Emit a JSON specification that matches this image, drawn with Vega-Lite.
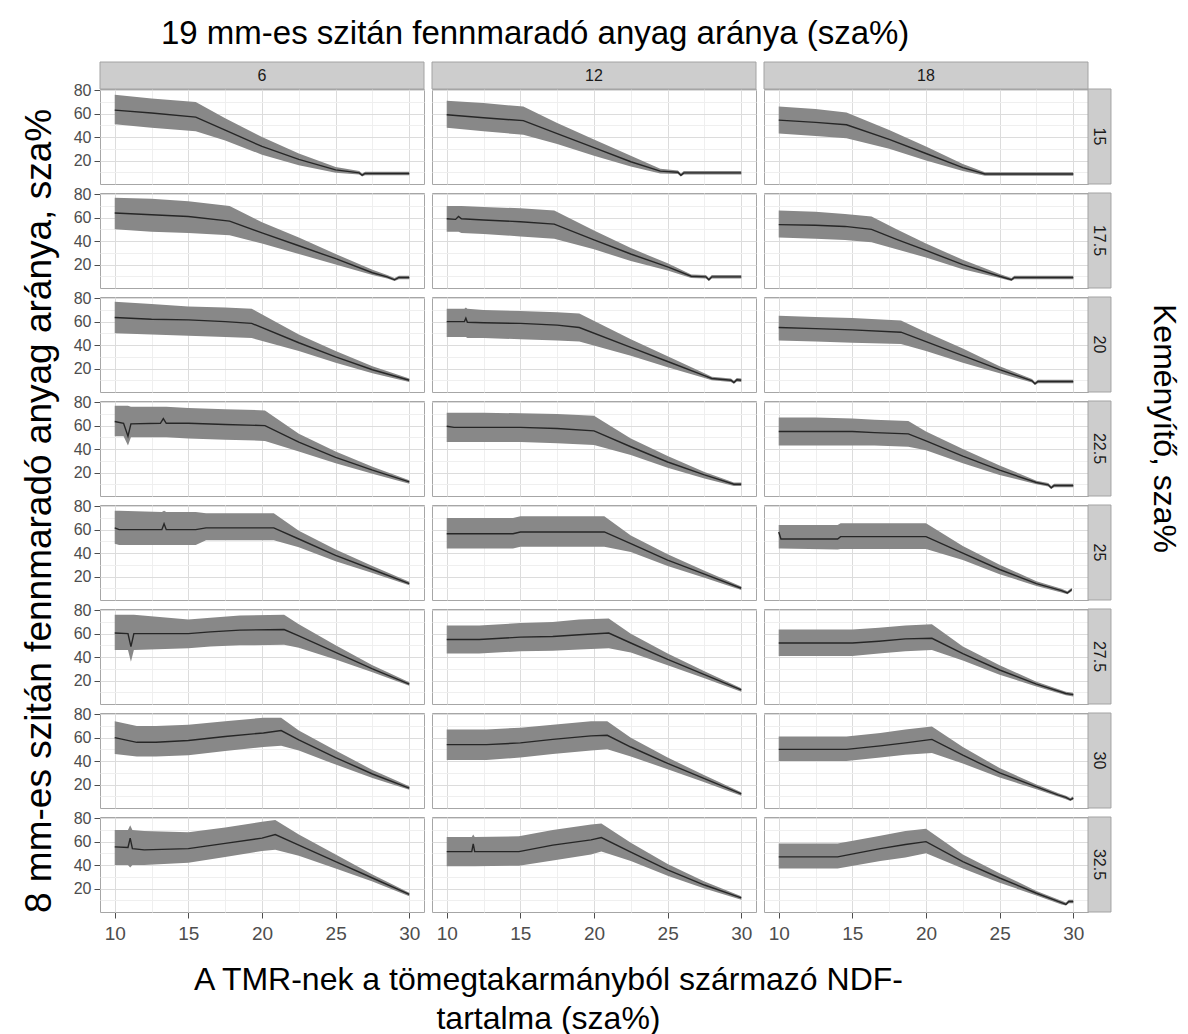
{
  "$schema": "https://vega.github.io/schema/vega-lite/v6.json",
  "padding": {"left": 20, "top": 18, "right": 2, "bottom": 0},
  "background": "white",
  "config": {
    "font": "Liberation Sans",
    "view": {"stroke": "#a6a6a6", "strokeWidth": 1},
    "axis": {"domain": false, "labelOverlap": false, "labelColor": "#4d4d4d", "tickColor": "#4d4d4d", "labelFont": "Liberation Sans", "gridColor": "#dcdcdc"}
  },
  "title": {"text": "19 mm-es szitán fennmaradó anyag aránya (sza%)", "fontSize": 33, "font": "Liberation Sans", "fontWeight": "normal", "color": "black", "anchor": "start", "frame": "bounds", "dx": 140, "offset": 10},
  "vconcat": [
    {
      "title": {"text": "Keményítő, sza%", "orient": "right", "fontSize": 32, "font": "Liberation Sans", "fontWeight": "normal", "color": "black", "anchor": "start", "frame": "bounds", "dx": 243, "offset": 35},
      "vconcat": [
        {
          "title": {"text": ["A TMR-nek a tömegtakarmányból származó  NDF-", "tartalma (sza%)"], "orient": "bottom", "anchor": "middle", "align": "center", "fontSize": 32, "lineHeight": 39, "font": "Liberation Sans", "fontWeight": "normal", "color": "black", "offset": 22, "dx": -18},
          "bounds": "flush",
          "spacing": {"row": 9, "column": 8},
          "data": {"values": [
            {"c":6,"r":15,"s":"c"},{"c":12,"r":15,"s":"c"},{"c":18,"r":15,"s":"c"},
            {"c":18,"r":15,"s":"r"},{"c":18,"r":17.5,"s":"r"},{"c":18,"r":20,"s":"r"},{"c":18,"r":22.5,"s":"r"},
            {"c":18,"r":25,"s":"r"},{"c":18,"r":27.5,"s":"r"},{"c":18,"r":30,"s":"r"},{"c":18,"r":32.5,"s":"r"},

            {"c":6,"r":15,"x":10,"m":63,"lo":51,"hi":76},
            {"c":6,"r":15,"x":12.5,"m":60.5,"lo":48,"hi":73},
            {"c":6,"r":15,"x":15.5,"m":57,"lo":45,"hi":70},
            {"c":6,"r":15,"x":17.5,"m":46,"lo":37,"hi":56},
            {"c":6,"r":15,"x":20,"m":32,"lo":25,"hi":40},
            {"c":6,"r":15,"x":22.5,"m":21,"lo":16,"hi":26},
            {"c":6,"r":15,"x":25,"m":12,"lo":9.5,"hi":14.5},
            {"c":6,"r":15,"x":26.6,"m":9.5,"lo":8,"hi":11},
            {"c":6,"r":15,"x":26.8,"m":7.5,"lo":6.5,"hi":9},
            {"c":6,"r":15,"x":27,"m":9,"lo":7.5,"hi":10.5},
            {"c":6,"r":15,"x":30,"m":9,"lo":7.5,"hi":10.5},

            {"c":12,"r":15,"x":10,"m":59,"lo":48,"hi":71},
            {"c":12,"r":15,"x":12.5,"m":56.5,"lo":45,"hi":69},
            {"c":12,"r":15,"x":15.2,"m":54,"lo":42,"hi":66},
            {"c":12,"r":15,"x":17.5,"m":43,"lo":34,"hi":52},
            {"c":12,"r":15,"x":20,"m":31,"lo":24,"hi":38},
            {"c":12,"r":15,"x":22.5,"m":19,"lo":15,"hi":24},
            {"c":12,"r":15,"x":24.5,"m":11,"lo":9,"hi":13},
            {"c":12,"r":15,"x":25.7,"m":10,"lo":8.5,"hi":11.5},
            {"c":12,"r":15,"x":25.9,"m":7.5,"lo":6.5,"hi":9},
            {"c":12,"r":15,"x":26.1,"m":9.5,"lo":8,"hi":11},
            {"c":12,"r":15,"x":30,"m":9.5,"lo":8,"hi":11},

            {"c":18,"r":15,"x":10,"m":54.5,"lo":43,"hi":66},
            {"c":18,"r":15,"x":12.5,"m":52.5,"lo":41,"hi":64},
            {"c":18,"r":15,"x":14.6,"m":50.5,"lo":39,"hi":61},
            {"c":18,"r":15,"x":17.5,"m":38,"lo":30,"hi":46},
            {"c":18,"r":15,"x":20,"m":26,"lo":20,"hi":32},
            {"c":18,"r":15,"x":22.5,"m":14,"lo":11,"hi":17},
            {"c":18,"r":15,"x":24,"m":8.5,"lo":7,"hi":10},
            {"c":18,"r":15,"x":30,"m":8.5,"lo":7,"hi":10},

            {"c":6,"r":17.5,"x":10,"m":64,"lo":50,"hi":77},
            {"c":6,"r":17.5,"x":12.5,"m":62.5,"lo":48,"hi":76},
            {"c":6,"r":17.5,"x":15,"m":61,"lo":47,"hi":74},
            {"c":6,"r":17.5,"x":17.8,"m":57,"lo":45,"hi":70},
            {"c":6,"r":17.5,"x":20,"m":47,"lo":38,"hi":56},
            {"c":6,"r":17.5,"x":22.5,"m":36,"lo":29,"hi":43},
            {"c":6,"r":17.5,"x":25,"m":25,"lo":20,"hi":29},
            {"c":6,"r":17.5,"x":27.5,"m":13,"lo":11,"hi":15.5},
            {"c":6,"r":17.5,"x":28.5,"m":9.5,"lo":8,"hi":11},
            {"c":6,"r":17.5,"x":29,"m":7,"lo":6,"hi":8.5},
            {"c":6,"r":17.5,"x":29.3,"m":9,"lo":7.5,"hi":10.5},
            {"c":6,"r":17.5,"x":30,"m":9,"lo":7.5,"hi":10.5},

            {"c":12,"r":17.5,"x":10,"m":59,"lo":48,"hi":70},
            {"c":12,"r":17.5,"x":10.6,"m":58.5,"lo":48,"hi":70},
            {"c":12,"r":17.5,"x":10.8,"m":61,"lo":48,"hi":70},
            {"c":12,"r":17.5,"x":11,"m":59,"lo":47,"hi":70},
            {"c":12,"r":17.5,"x":12.5,"m":58,"lo":46,"hi":69},
            {"c":12,"r":17.5,"x":15,"m":56.5,"lo":44,"hi":68},
            {"c":12,"r":17.5,"x":17.3,"m":54.5,"lo":42,"hi":66},
            {"c":12,"r":17.5,"x":20,"m":41,"lo":33,"hi":49},
            {"c":12,"r":17.5,"x":22.5,"m":29,"lo":23,"hi":34},
            {"c":12,"r":17.5,"x":25,"m":18,"lo":15,"hi":21},
            {"c":12,"r":17.5,"x":26.6,"m":10,"lo":8.5,"hi":11.5},
            {"c":12,"r":17.5,"x":27.6,"m":9.5,"lo":8,"hi":11},
            {"c":12,"r":17.5,"x":27.8,"m":7,"lo":6,"hi":8.5},
            {"c":12,"r":17.5,"x":28,"m":9.5,"lo":8,"hi":11},
            {"c":12,"r":17.5,"x":30,"m":9.5,"lo":8,"hi":11},

            {"c":18,"r":17.5,"x":10,"m":54,"lo":43,"hi":66},
            {"c":18,"r":17.5,"x":12.5,"m":53.5,"lo":42,"hi":65},
            {"c":18,"r":17.5,"x":14.5,"m":52.5,"lo":41,"hi":63},
            {"c":18,"r":17.5,"x":16.3,"m":50,"lo":39,"hi":61},
            {"c":18,"r":17.5,"x":18,"m":41.5,"lo":33,"hi":50},
            {"c":18,"r":17.5,"x":20,"m":32,"lo":26,"hi":38},
            {"c":18,"r":17.5,"x":22.5,"m":20,"lo":16,"hi":24},
            {"c":18,"r":17.5,"x":25,"m":10,"lo":8.5,"hi":12},
            {"c":18,"r":17.5,"x":25.8,"m":7,"lo":6,"hi":8.5},
            {"c":18,"r":17.5,"x":26,"m":9,"lo":7.5,"hi":10.5},
            {"c":18,"r":17.5,"x":30,"m":9,"lo":7.5,"hi":10.5},

            {"c":6,"r":20,"x":10,"m":63.5,"lo":50,"hi":77},
            {"c":6,"r":20,"x":12.5,"m":62,"lo":49,"hi":75},
            {"c":6,"r":20,"x":15,"m":61.5,"lo":48,"hi":73},
            {"c":6,"r":20,"x":17.5,"m":60,"lo":47,"hi":72},
            {"c":6,"r":20,"x":19.3,"m":58.5,"lo":46,"hi":71},
            {"c":6,"r":20,"x":22.5,"m":42,"lo":35,"hi":49},
            {"c":6,"r":20,"x":25,"m":30,"lo":25,"hi":35},
            {"c":6,"r":20,"x":27.5,"m":19,"lo":16,"hi":22},
            {"c":6,"r":20,"x":30,"m":10,"lo":8.5,"hi":11.5},

            {"c":12,"r":20,"x":10,"m":60,"lo":47,"hi":71},
            {"c":12,"r":20,"x":11.2,"m":60,"lo":47,"hi":71},
            {"c":12,"r":20,"x":11.3,"m":63,"lo":47,"hi":72},
            {"c":12,"r":20,"x":11.4,"m":59.5,"lo":46,"hi":71},
            {"c":12,"r":20,"x":12.5,"m":59,"lo":46,"hi":70},
            {"c":12,"r":20,"x":15,"m":58.5,"lo":45,"hi":69},
            {"c":12,"r":20,"x":17.5,"m":57,"lo":44,"hi":68},
            {"c":12,"r":20,"x":19,"m":55,"lo":43,"hi":67},
            {"c":12,"r":20,"x":22.5,"m":38,"lo":31,"hi":45},
            {"c":12,"r":20,"x":25,"m":26,"lo":21,"hi":30.5},
            {"c":12,"r":20,"x":27.5,"m":14,"lo":12,"hi":16},
            {"c":12,"r":20,"x":28,"m":11.5,"lo":10,"hi":13},
            {"c":12,"r":20,"x":29.3,"m":10,"lo":8.5,"hi":11.5},
            {"c":12,"r":20,"x":29.5,"m":8,"lo":7,"hi":9.5},
            {"c":12,"r":20,"x":29.7,"m":10.5,"lo":9,"hi":12},
            {"c":12,"r":20,"x":30,"m":10,"lo":8.5,"hi":11.5},

            {"c":18,"r":20,"x":10,"m":55,"lo":44,"hi":65},
            {"c":18,"r":20,"x":12.5,"m":54,"lo":43,"hi":64},
            {"c":18,"r":20,"x":15,"m":53,"lo":42,"hi":63},
            {"c":18,"r":20,"x":18.3,"m":51,"lo":41,"hi":61},
            {"c":18,"r":20,"x":20,"m":43,"lo":35,"hi":51},
            {"c":18,"r":20,"x":22.5,"m":31,"lo":25,"hi":37},
            {"c":18,"r":20,"x":25,"m":19,"lo":16,"hi":22},
            {"c":18,"r":20,"x":27.2,"m":9.5,"lo":8,"hi":11},
            {"c":18,"r":20,"x":27.4,"m":7,"lo":6,"hi":8.5},
            {"c":18,"r":20,"x":27.6,"m":9,"lo":7.5,"hi":10.5},
            {"c":18,"r":20,"x":30,"m":9,"lo":7.5,"hi":10.5},

            {"c":6,"r":22.5,"x":10,"m":63.5,"lo":51,"hi":77},
            {"c":6,"r":22.5,"x":10.6,"m":62,"lo":51,"hi":77},
            {"c":6,"r":22.5,"x":10.9,"m":51,"lo":43,"hi":77},
            {"c":6,"r":22.5,"x":11.1,"m":61.5,"lo":50,"hi":76},
            {"c":6,"r":22.5,"x":13.1,"m":62,"lo":50,"hi":76},
            {"c":6,"r":22.5,"x":13.3,"m":66,"lo":50,"hi":76},
            {"c":6,"r":22.5,"x":13.5,"m":62,"lo":50,"hi":76},
            {"c":6,"r":22.5,"x":15,"m":62,"lo":49,"hi":75},
            {"c":6,"r":22.5,"x":17.5,"m":61,"lo":48,"hi":74},
            {"c":6,"r":22.5,"x":20.2,"m":60,"lo":47,"hi":73},
            {"c":6,"r":22.5,"x":22.5,"m":46,"lo":38,"hi":53},
            {"c":6,"r":22.5,"x":25,"m":33,"lo":28,"hi":38},
            {"c":6,"r":22.5,"x":27.5,"m":22,"lo":19,"hi":25},
            {"c":6,"r":22.5,"x":30,"m":12,"lo":10.5,"hi":13.5},

            {"c":12,"r":22.5,"x":10,"m":59.5,"lo":46,"hi":71},
            {"c":12,"r":22.5,"x":10.5,"m":58.5,"lo":46,"hi":71},
            {"c":12,"r":22.5,"x":12.5,"m":58.5,"lo":46,"hi":71},
            {"c":12,"r":22.5,"x":15,"m":58.5,"lo":46,"hi":70.5},
            {"c":12,"r":22.5,"x":17.5,"m":57.5,"lo":45,"hi":70},
            {"c":12,"r":22.5,"x":20,"m":55.5,"lo":43.5,"hi":68.5},
            {"c":12,"r":22.5,"x":22.5,"m":42,"lo":35,"hi":49},
            {"c":12,"r":22.5,"x":25,"m":29,"lo":24,"hi":34},
            {"c":12,"r":22.5,"x":27.5,"m":18,"lo":15,"hi":20.5},
            {"c":12,"r":22.5,"x":29.5,"m":10,"lo":8.5,"hi":11.5},
            {"c":12,"r":22.5,"x":30,"m":10,"lo":8.5,"hi":11.5},

            {"c":18,"r":22.5,"x":10,"m":55,"lo":43,"hi":67},
            {"c":18,"r":22.5,"x":12.5,"m":55,"lo":43,"hi":67},
            {"c":18,"r":22.5,"x":15,"m":55,"lo":43,"hi":66},
            {"c":18,"r":22.5,"x":16.5,"m":54,"lo":43,"hi":65},
            {"c":18,"r":22.5,"x":18.8,"m":53,"lo":42,"hi":64},
            {"c":18,"r":22.5,"x":20,"m":47,"lo":39,"hi":55},
            {"c":18,"r":22.5,"x":22.5,"m":34,"lo":28,"hi":40},
            {"c":18,"r":22.5,"x":25,"m":22,"lo":18,"hi":26},
            {"c":18,"r":22.5,"x":27.5,"m":11.5,"lo":10,"hi":13},
            {"c":18,"r":22.5,"x":28.3,"m":9.5,"lo":8,"hi":11},
            {"c":18,"r":22.5,"x":28.5,"m":7,"lo":6,"hi":8.5},
            {"c":18,"r":22.5,"x":28.7,"m":9,"lo":7.5,"hi":10.5},
            {"c":18,"r":22.5,"x":30,"m":9,"lo":7.5,"hi":10.5},

            {"c":6,"r":25,"x":10,"m":61.5,"lo":48,"hi":76},
            {"c":6,"r":25,"x":10.3,"m":60,"lo":47,"hi":76},
            {"c":6,"r":25,"x":13.2,"m":60,"lo":47,"hi":75},
            {"c":6,"r":25,"x":13.35,"m":65,"lo":47,"hi":76},
            {"c":6,"r":25,"x":13.5,"m":60,"lo":47,"hi":75},
            {"c":6,"r":25,"x":15.5,"m":60,"lo":47,"hi":75},
            {"c":6,"r":25,"x":16.2,"m":61.5,"lo":51,"hi":74},
            {"c":6,"r":25,"x":20.8,"m":61.5,"lo":51,"hi":74},
            {"c":6,"r":25,"x":22.5,"m":52,"lo":45,"hi":59},
            {"c":6,"r":25,"x":25,"m":38,"lo":33,"hi":43},
            {"c":6,"r":25,"x":27.5,"m":26,"lo":23,"hi":29},
            {"c":6,"r":25,"x":30,"m":14,"lo":12.5,"hi":15.5},

            {"c":12,"r":25,"x":10,"m":56.5,"lo":44,"hi":70},
            {"c":12,"r":25,"x":14.5,"m":56.5,"lo":44,"hi":70},
            {"c":12,"r":25,"x":15,"m":58,"lo":45.5,"hi":71.5},
            {"c":12,"r":25,"x":20.7,"m":58,"lo":45.5,"hi":71.5},
            {"c":12,"r":25,"x":22.5,"m":48,"lo":41,"hi":55},
            {"c":12,"r":25,"x":25,"m":34,"lo":29,"hi":39},
            {"c":12,"r":25,"x":27.5,"m":22,"lo":19,"hi":25},
            {"c":12,"r":25,"x":30,"m":10,"lo":8.5,"hi":11.5},

            {"c":18,"r":25,"x":10,"m":58,"lo":44,"hi":64},
            {"c":18,"r":25,"x":10.15,"m":52,"lo":44,"hi":64},
            {"c":18,"r":25,"x":14,"m":52,"lo":43,"hi":64},
            {"c":18,"r":25,"x":14.2,"m":54,"lo":43.5,"hi":65.5},
            {"c":18,"r":25,"x":20,"m":54,"lo":43.5,"hi":65.5},
            {"c":18,"r":25,"x":22.5,"m":40,"lo":34,"hi":46},
            {"c":18,"r":25,"x":25,"m":26,"lo":22,"hi":30},
            {"c":18,"r":25,"x":27.5,"m":14,"lo":12,"hi":16},
            {"c":18,"r":25,"x":29.2,"m":8,"lo":6.5,"hi":9.5},
            {"c":18,"r":25,"x":29.6,"m":6,"lo":5,"hi":7.5},
            {"c":18,"r":25,"x":29.9,"m":9,"lo":7.5,"hi":10.5},

            {"c":6,"r":27.5,"x":10,"m":60.5,"lo":46,"hi":76},
            {"c":6,"r":27.5,"x":10.9,"m":60,"lo":46,"hi":76},
            {"c":6,"r":27.5,"x":11.1,"m":49,"lo":36,"hi":76},
            {"c":6,"r":27.5,"x":11.3,"m":60,"lo":46,"hi":76},
            {"c":6,"r":27.5,"x":15,"m":60,"lo":47.5,"hi":72},
            {"c":6,"r":27.5,"x":16.5,"m":61.5,"lo":49,"hi":73.5},
            {"c":6,"r":27.5,"x":18.5,"m":63,"lo":50,"hi":75.5},
            {"c":6,"r":27.5,"x":21.5,"m":63.5,"lo":50.5,"hi":76},
            {"c":6,"r":27.5,"x":22.5,"m":58,"lo":48,"hi":68},
            {"c":6,"r":27.5,"x":25,"m":44,"lo":38,"hi":50},
            {"c":6,"r":27.5,"x":27.5,"m":30,"lo":27,"hi":33},
            {"c":6,"r":27.5,"x":30,"m":17,"lo":15.5,"hi":18.5},

            {"c":12,"r":27.5,"x":10,"m":55,"lo":43,"hi":67},
            {"c":12,"r":27.5,"x":12.2,"m":55,"lo":43,"hi":67},
            {"c":12,"r":27.5,"x":15,"m":57,"lo":45,"hi":69},
            {"c":12,"r":27.5,"x":17.2,"m":57.5,"lo":45.5,"hi":70},
            {"c":12,"r":27.5,"x":19,"m":59,"lo":46.5,"hi":72},
            {"c":12,"r":27.5,"x":21,"m":60.5,"lo":47.5,"hi":73},
            {"c":12,"r":27.5,"x":22.5,"m":52,"lo":44,"hi":60},
            {"c":12,"r":27.5,"x":25,"m":38,"lo":33,"hi":43},
            {"c":12,"r":27.5,"x":27.5,"m":25,"lo":22,"hi":28},
            {"c":12,"r":27.5,"x":30,"m":12,"lo":10.5,"hi":13.5},

            {"c":18,"r":27.5,"x":10,"m":52,"lo":41,"hi":63.5},
            {"c":18,"r":27.5,"x":15,"m":52,"lo":41,"hi":63.5},
            {"c":18,"r":27.5,"x":16.8,"m":53.5,"lo":43,"hi":65},
            {"c":18,"r":27.5,"x":18.6,"m":55.5,"lo":45,"hi":67},
            {"c":18,"r":27.5,"x":20.4,"m":56,"lo":46,"hi":68},
            {"c":18,"r":27.5,"x":22.5,"m":43,"lo":37,"hi":49},
            {"c":18,"r":27.5,"x":25,"m":29,"lo":25,"hi":33},
            {"c":18,"r":27.5,"x":27.5,"m":17,"lo":15,"hi":19},
            {"c":18,"r":27.5,"x":29.5,"m":9,"lo":7.5,"hi":10.5},
            {"c":18,"r":27.5,"x":30,"m":8,"lo":6.5,"hi":9.5},

            {"c":6,"r":30,"x":10,"m":60,"lo":46,"hi":74},
            {"c":6,"r":30,"x":11.5,"m":56,"lo":44,"hi":70},
            {"c":6,"r":30,"x":12.8,"m":56,"lo":44,"hi":70},
            {"c":6,"r":30,"x":15,"m":57.5,"lo":45,"hi":71},
            {"c":6,"r":30,"x":17.5,"m":61,"lo":48.5,"hi":74},
            {"c":6,"r":30,"x":20.1,"m":64,"lo":52,"hi":77},
            {"c":6,"r":30,"x":21.3,"m":66,"lo":53,"hi":77},
            {"c":6,"r":30,"x":22.5,"m":58,"lo":49,"hi":66},
            {"c":6,"r":30,"x":25,"m":43,"lo":37,"hi":49},
            {"c":6,"r":30,"x":27.5,"m":29,"lo":25.5,"hi":32.5},
            {"c":6,"r":30,"x":30,"m":17,"lo":15.5,"hi":18.5},

            {"c":12,"r":30,"x":10,"m":54,"lo":41,"hi":67},
            {"c":12,"r":30,"x":12.7,"m":54,"lo":41,"hi":67},
            {"c":12,"r":30,"x":15,"m":55.5,"lo":43,"hi":68.5},
            {"c":12,"r":30,"x":17.2,"m":58.5,"lo":46,"hi":71},
            {"c":12,"r":30,"x":19.8,"m":61.5,"lo":49,"hi":74},
            {"c":12,"r":30,"x":20.9,"m":62,"lo":50,"hi":74},
            {"c":12,"r":30,"x":22.5,"m":52,"lo":44,"hi":60},
            {"c":12,"r":30,"x":25,"m":38,"lo":33,"hi":43},
            {"c":12,"r":30,"x":27.5,"m":25,"lo":22,"hi":28},
            {"c":12,"r":30,"x":30,"m":12,"lo":10.5,"hi":13.5},

            {"c":18,"r":30,"x":10,"m":50,"lo":40,"hi":61},
            {"c":18,"r":30,"x":14.6,"m":50,"lo":40,"hi":61},
            {"c":18,"r":30,"x":16.9,"m":53,"lo":43,"hi":64},
            {"c":18,"r":30,"x":18.6,"m":55.5,"lo":45.5,"hi":67},
            {"c":18,"r":30,"x":20.4,"m":58.5,"lo":47,"hi":69.5},
            {"c":18,"r":30,"x":22.5,"m":45,"lo":38,"hi":52},
            {"c":18,"r":30,"x":25,"m":30,"lo":26,"hi":34},
            {"c":18,"r":30,"x":27.5,"m":18,"lo":16,"hi":20},
            {"c":18,"r":30,"x":29,"m":11,"lo":9.5,"hi":12.5},
            {"c":18,"r":30,"x":29.5,"m":9,"lo":7.5,"hi":10.5},
            {"c":18,"r":30,"x":29.8,"m":7,"lo":6,"hi":8.5},
            {"c":18,"r":30,"x":30,"m":8.5,"lo":7,"hi":10},

            {"c":6,"r":32.5,"x":10,"m":55.5,"lo":40,"hi":70},
            {"c":6,"r":32.5,"x":10.9,"m":55,"lo":40,"hi":70},
            {"c":6,"r":32.5,"x":11.05,"m":63,"lo":38,"hi":74},
            {"c":6,"r":32.5,"x":11.2,"m":54,"lo":40,"hi":70},
            {"c":6,"r":32.5,"x":12,"m":53,"lo":40,"hi":69},
            {"c":6,"r":32.5,"x":15,"m":54,"lo":42,"hi":68},
            {"c":6,"r":32.5,"x":17.5,"m":58.5,"lo":47,"hi":72},
            {"c":6,"r":32.5,"x":20,"m":63,"lo":52,"hi":77},
            {"c":6,"r":32.5,"x":20.9,"m":66,"lo":53,"hi":78.5},
            {"c":6,"r":32.5,"x":22.5,"m":57,"lo":48,"hi":66},
            {"c":6,"r":32.5,"x":25,"m":43,"lo":37,"hi":49},
            {"c":6,"r":32.5,"x":27.5,"m":29,"lo":26,"hi":32},
            {"c":6,"r":32.5,"x":30,"m":15,"lo":13.5,"hi":16.5},

            {"c":12,"r":32.5,"x":10,"m":51.5,"lo":39,"hi":64},
            {"c":12,"r":32.5,"x":11.7,"m":51.5,"lo":39,"hi":64},
            {"c":12,"r":32.5,"x":11.8,"m":58,"lo":39,"hi":66},
            {"c":12,"r":32.5,"x":11.9,"m":51.5,"lo":39,"hi":64},
            {"c":12,"r":32.5,"x":14.9,"m":51.5,"lo":39.5,"hi":64.5},
            {"c":12,"r":32.5,"x":17.2,"m":57,"lo":44,"hi":70},
            {"c":12,"r":32.5,"x":19.8,"m":61.5,"lo":49,"hi":74.5},
            {"c":12,"r":32.5,"x":20.5,"m":63.5,"lo":51.5,"hi":75.5},
            {"c":12,"r":32.5,"x":22.5,"m":51,"lo":43.5,"hi":59},
            {"c":12,"r":32.5,"x":25,"m":36,"lo":31,"hi":41},
            {"c":12,"r":32.5,"x":27.5,"m":23,"lo":20,"hi":26},
            {"c":12,"r":32.5,"x":30,"m":12,"lo":10.5,"hi":13.5},

            {"c":18,"r":32.5,"x":10,"m":47,"lo":37,"hi":58.5},
            {"c":18,"r":32.5,"x":14,"m":47,"lo":37,"hi":58.5},
            {"c":18,"r":32.5,"x":16.9,"m":54,"lo":43.5,"hi":65},
            {"c":18,"r":32.5,"x":18.6,"m":57.5,"lo":46.5,"hi":69},
            {"c":18,"r":32.5,"x":20,"m":60,"lo":50,"hi":71},
            {"c":18,"r":32.5,"x":22.5,"m":43,"lo":37,"hi":49},
            {"c":18,"r":32.5,"x":25,"m":29,"lo":25,"hi":33},
            {"c":18,"r":32.5,"x":27.5,"m":16,"lo":14,"hi":18},
            {"c":18,"r":32.5,"x":29.2,"m":8,"lo":6.5,"hi":9.5},
            {"c":18,"r":32.5,"x":29.5,"m":6.5,"lo":5.5,"hi":8},
            {"c":18,"r":32.5,"x":29.7,"m":9,"lo":7.5,"hi":10.5},
            {"c":18,"r":32.5,"x":30,"m":9,"lo":7.5,"hi":10.5}
          ]},
          "facet": {
            "row": {"field": "r", "type": "ordinal", "header": {"labels": false, "title": "8 mm-es szitán fennmaradó anyag aránya, sza%", "titleOrient": "left", "titleAngle": -90, "titleAnchor": "start", "titleFontSize": 37, "titleFont": "Liberation Sans", "titleFontWeight": "normal", "titleColor": "black", "titlePadding": -33}},
            "column": {"field": "c", "type": "ordinal", "header": {"labels": false, "title": null}}
          },
          "spec": {
            "width": 324,
            "height": 95,
            "layer": [
              {
                "transform": [{"filter": "datum.s == null"}],
                "mark": {"type": "area", "color": "#888888", "interpolate": "linear"},
                "encoding": {
                  "x": {"field": "x", "type": "quantitative", "title": null, "scale": {"domain": [9, 31], "nice": false, "zero": false},
                    "axis": {"title": null, "labelOverlap": false, "values": [10, 12.5, 15, 17.5, 20, 22.5, 25, 27.5, 30], "format": "d", "labelExpr": "datum.value % 5 === 0 ? datum.label : ''", "tickOpacity": {"condition": {"test": "datum.value % 5 === 0", "value": 1}, "value": 0}, "gridColor": {"condition": {"test": "datum.value % 5 === 0", "value": "#dcdcdc"}, "value": "#efefef"}, "tickSize": 6, "labelFontSize": 19, "labelPadding": 6}},
                  "y": {"field": "lo", "type": "quantitative", "title": null, "scale": {"domain": [0, 81], "nice": false, "zero": false},
                    "axis": {"title": null, "labelOverlap": false, "values": [10, 20, 30, 40, 50, 60, 70, 80], "format": "d", "labelExpr": "datum.value % 20 === 0 ? datum.label : ''", "tickOpacity": {"condition": {"test": "datum.value % 20 === 0", "value": 1}, "value": 0}, "gridColor": {"condition": {"test": "datum.value % 20 === 0", "value": "#dcdcdc"}, "value": "#efefef"}, "tickSize": 6, "labelFontSize": 16, "labelPadding": 3}},
                  "y2": {"field": "hi"}
                }
              },
              {
                "transform": [{"filter": "datum.s == null"}],
                "mark": {"type": "line", "color": "#262626", "strokeWidth": 1.4},
                "encoding": {
                  "x": {"field": "x", "type": "quantitative", "title": null, "scale": {"domain": [9, 31], "nice": false, "zero": false},
                    "axis": {"title": null, "labelOverlap": false, "values": [10, 12.5, 15, 17.5, 20, 22.5, 25, 27.5, 30], "format": "d", "labelExpr": "datum.value % 5 === 0 ? datum.label : ''", "tickOpacity": {"condition": {"test": "datum.value % 5 === 0", "value": 1}, "value": 0}, "gridColor": {"condition": {"test": "datum.value % 5 === 0", "value": "#dcdcdc"}, "value": "#efefef"}, "tickSize": 6, "labelFontSize": 19, "labelPadding": 6}},
                  "y": {"field": "m", "type": "quantitative", "title": null, "scale": {"domain": [0, 81], "nice": false, "zero": false},
                    "axis": {"title": null, "labelOverlap": false, "values": [10, 20, 30, 40, 50, 60, 70, 80], "format": "d", "labelExpr": "datum.value % 20 === 0 ? datum.label : ''", "tickOpacity": {"condition": {"test": "datum.value % 20 === 0", "value": 1}, "value": 0}, "gridColor": {"condition": {"test": "datum.value % 20 === 0", "value": "#dcdcdc"}, "value": "#efefef"}, "tickSize": 6, "labelFontSize": 16, "labelPadding": 3}}
                }
              },
              {
                "transform": [{"filter": "datum.s == 'c'"}],
                "mark": {"type": "rect", "fill": "#cdcdcd", "stroke": "#a3a3a3", "strokeWidth": 1, "clip": false},
                "encoding": {
                  "x": {"datum": 9, "axis": {"title": null, "labelOverlap": false, "values": [10, 12.5, 15, 17.5, 20, 22.5, 25, 27.5, 30], "format": "d", "labelExpr": "datum.value % 5 === 0 ? datum.label : ''", "tickOpacity": {"condition": {"test": "datum.value % 5 === 0", "value": 1}, "value": 0}, "gridColor": {"condition": {"test": "datum.value % 5 === 0", "value": "#dcdcdc"}, "value": "#efefef"}, "tickSize": 6, "labelFontSize": 19, "labelPadding": 6}},
                  "x2": {"datum": 31},
                  "y": {"datum": 81, "axis": {"title": null, "labelOverlap": false, "values": [10, 20, 30, 40, 50, 60, 70, 80], "format": "d", "labelExpr": "datum.value % 20 === 0 ? datum.label : ''", "tickOpacity": {"condition": {"test": "datum.value % 20 === 0", "value": 1}, "value": 0}, "gridColor": {"condition": {"test": "datum.value % 20 === 0", "value": "#dcdcdc"}, "value": "#efefef"}, "tickSize": 6, "labelFontSize": 16, "labelPadding": 3}},
                  "y2": {"datum": 104}
                }
              },
              {
                "transform": [{"filter": "datum.s == 'c'"}],
                "mark": {"type": "text", "fontSize": 16, "color": "#1a1a1a", "font": "Liberation Sans", "clip": false, "baseline": "middle"},
                "encoding": {
                  "x": {"datum": 20, "axis": {"title": null, "labelOverlap": false, "values": [10, 12.5, 15, 17.5, 20, 22.5, 25, 27.5, 30], "format": "d", "labelExpr": "datum.value % 5 === 0 ? datum.label : ''", "tickOpacity": {"condition": {"test": "datum.value % 5 === 0", "value": 1}, "value": 0}, "gridColor": {"condition": {"test": "datum.value % 5 === 0", "value": "#dcdcdc"}, "value": "#efefef"}, "tickSize": 6, "labelFontSize": 19, "labelPadding": 6}},
                  "y": {"datum": 92.5, "axis": {"title": null, "labelOverlap": false, "values": [10, 20, 30, 40, 50, 60, 70, 80], "format": "d", "labelExpr": "datum.value % 20 === 0 ? datum.label : ''", "tickOpacity": {"condition": {"test": "datum.value % 20 === 0", "value": 1}, "value": 0}, "gridColor": {"condition": {"test": "datum.value % 20 === 0", "value": "#dcdcdc"}, "value": "#efefef"}, "tickSize": 6, "labelFontSize": 16, "labelPadding": 3}},
                  "text": {"field": "c", "type": "nominal"}
                }
              },
              {
                "transform": [{"filter": "datum.s == 'r'"}],
                "mark": {"type": "rect", "fill": "#cdcdcd", "stroke": "#a3a3a3", "strokeWidth": 1, "clip": false},
                "encoding": {
                  "x": {"datum": 31, "axis": {"title": null, "labelOverlap": false, "values": [10, 12.5, 15, 17.5, 20, 22.5, 25, 27.5, 30], "format": "d", "labelExpr": "datum.value % 5 === 0 ? datum.label : ''", "tickOpacity": {"condition": {"test": "datum.value % 5 === 0", "value": 1}, "value": 0}, "gridColor": {"condition": {"test": "datum.value % 5 === 0", "value": "#dcdcdc"}, "value": "#efefef"}, "tickSize": 6, "labelFontSize": 19, "labelPadding": 6}},
                  "x2": {"datum": 32.56},
                  "y": {"datum": 0, "axis": {"title": null, "labelOverlap": false, "values": [10, 20, 30, 40, 50, 60, 70, 80], "format": "d", "labelExpr": "datum.value % 20 === 0 ? datum.label : ''", "tickOpacity": {"condition": {"test": "datum.value % 20 === 0", "value": 1}, "value": 0}, "gridColor": {"condition": {"test": "datum.value % 20 === 0", "value": "#dcdcdc"}, "value": "#efefef"}, "tickSize": 6, "labelFontSize": 16, "labelPadding": 3}},
                  "y2": {"datum": 81}
                }
              },
              {
                "transform": [{"filter": "datum.s == 'r'"}],
                "mark": {"type": "text", "fontSize": 16, "color": "#1a1a1a", "font": "Liberation Sans", "clip": false, "angle": 90, "baseline": "middle", "align": "center"},
                "encoding": {
                  "x": {"datum": 31.78, "axis": {"title": null, "labelOverlap": false, "values": [10, 12.5, 15, 17.5, 20, 22.5, 25, 27.5, 30], "format": "d", "labelExpr": "datum.value % 5 === 0 ? datum.label : ''", "tickOpacity": {"condition": {"test": "datum.value % 5 === 0", "value": 1}, "value": 0}, "gridColor": {"condition": {"test": "datum.value % 5 === 0", "value": "#dcdcdc"}, "value": "#efefef"}, "tickSize": 6, "labelFontSize": 19, "labelPadding": 6}},
                  "y": {"datum": 40.5, "axis": {"title": null, "labelOverlap": false, "values": [10, 20, 30, 40, 50, 60, 70, 80], "format": "d", "labelExpr": "datum.value % 20 === 0 ? datum.label : ''", "tickOpacity": {"condition": {"test": "datum.value % 20 === 0", "value": 1}, "value": 0}, "gridColor": {"condition": {"test": "datum.value % 20 === 0", "value": "#dcdcdc"}, "value": "#efefef"}, "tickSize": 6, "labelFontSize": 16, "labelPadding": 3}},
                  "text": {"field": "r", "type": "nominal"}
                }
              }
            ]
          }
        }
      ]
    }
  ]
}
